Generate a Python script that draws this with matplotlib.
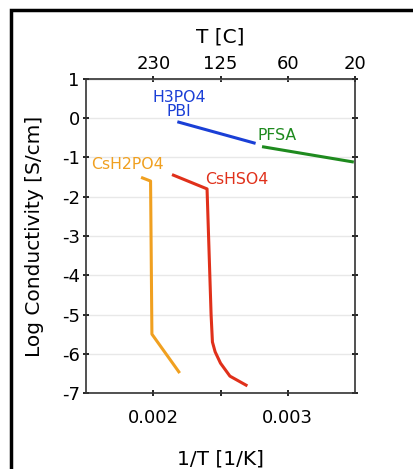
import matplotlib
matplotlib.use("Agg")
import matplotlib.pyplot as plt
from matplotlib.patches import Rectangle

# 1/T [1/K] vs log conductivity [S/cm]
pbi_x = [0.00219, 0.00275]
pbi_y = [-0.10, -0.63]

pfsa_x = [0.00282, 0.00348]
pfsa_y = [-0.73, -1.11]

cdp_x = [0.00192, 0.00198, 0.00199, 0.00219]
cdp_y = [-1.52, -1.60, -5.50, -6.46]

chs_x = [0.00215, 0.00240, 0.00243, 0.00244, 0.00246, 0.00250, 0.00257, 0.00269]
chs_y = [-1.45, -1.80, -5.00, -5.70, -5.95, -6.24, -6.57, -6.80]

top_ticks = [0.002, 0.0025, 0.003, 0.0035]
top_labels = ["230", "125", "60", "20"]

plt.rcParams["font.family"] = ["DejaVu Sans"]
plt.rcParams["axes.unicode_minus"] = False

fig = plt.figure(figsize=(4.13, 4.69), dpi=100)
ax = fig.add_axes([86 / 413, 1 - 393 / 469, 269 / 413, 314 / 469])

# outer frame
fig.patches.append(Rectangle((11 / 413, -0.1), 1.2, (469 - 10) / 469 + 0.1,
                             transform=fig.transFigure, fill=False,
                             edgecolor="black", lw=2.5))

ax.plot(pbi_x, pbi_y, color="#1a3fd6", lw=2.2)
ax.plot(pfsa_x, pfsa_y, color="#1e8a1e", lw=2.2)
ax.plot(cdp_x, cdp_y, color="#f0a020", lw=2.2)
ax.plot(chs_x, chs_y, color="#e0301a", lw=2.2)

ax.text(0.00219, 0.35, "H3PO4\nPBI", color="#1a3fd6", ha="center", va="center",
        fontsize=11.3, linespacing=0.9)
ax.text(0.00292, -0.43, "PFSA", color="#1e8a1e", ha="center", va="center", fontsize=11.3)
ax.text(0.00181, -1.17, "CsH2PO4", color="#f0a020", ha="center", va="center", fontsize=11.3)
ax.text(0.00262, -1.55, "CsHSO4", color="#e0301a", ha="center", va="center", fontsize=11.3)

ax.set_xlim(0.0015, 0.0035)
ax.set_ylim(-7, 1)
ax.set_xticks([0.002, 0.0025, 0.003])
ax.set_xticklabels(["0.002", "", "0.003"])
ax.set_yticks(range(-7, 2))
ax.grid(axis="y", color="#e8e8e8", lw=1)
ax.set_axisbelow(True)
ax.tick_params(direction="inout", right=True, labelsize=13, length=5, width=1.2)
ax.tick_params(axis="x", pad=9)
ax.tick_params(axis="y", pad=2)
for s in ax.spines.values():
    s.set_linewidth(1.2)
    s.set_color("#333333")

ax.set_xlabel("1/T [1/K]", fontsize=14.5, labelpad=16)
ax.set_ylabel("Log Conductivity [S/cm]", fontsize=14.5, labelpad=13)

top = ax.secondary_xaxis("top")
top.set_xticks(top_ticks)
top.set_xticklabels(top_labels)
top.tick_params(direction="inout", labelsize=13, length=5, width=1.2, pad=2)
top.set_xlabel("T [C]", fontsize=14.5, labelpad=9)

fig.savefig("out.png", dpi=100)
